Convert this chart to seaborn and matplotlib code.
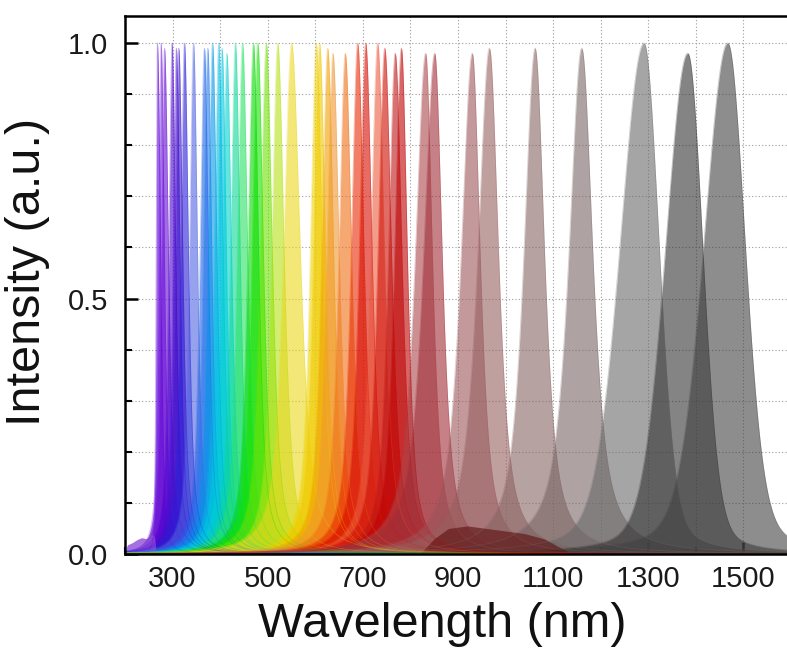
import numpy as np
import pandas as pd
import matplotlib
matplotlib.use("Agg")
import matplotlib.pyplot as plt
import seaborn as sns
from matplotlib.ticker import MultipleLocator

# ---- data ----
peak_nm = [268, 276, 283, 299, 308, 313, 325, 344, 367, 374, 384, 397, 404, 414,
           432, 447, 470, 479, 497, 521, 550, 602, 609, 626, 637, 663, 689, 706,
           731, 746, 768, 781, 832, 851, 930, 966, 1062, 1160, 1291, 1383, 1467]
peak_height = [1.00, 1.00, 0.99, 1.00, 0.99, 0.99, 1.00, 1.00, 0.99, 0.99, 1.00, 1.00, 0.99, 0.98,
               1.00, 1.00, 1.00, 1.00, 1.00, 1.00, 1.00, 1.00, 1.00, 0.99, 0.98, 0.98, 1.00, 1.00,
               1.00, 0.99, 0.98, 0.99, 0.98, 0.98, 0.98, 0.99, 0.99, 0.99, 1.00, 0.98, 1.00]
hwhm_left = [3, 6, 7, 8, 8, 8, 9, 10, 11, 11, 11, 11, 11, 11,
             12, 13, 14, 14, 15, 15, 20, 15, 15, 15, 15, 16, 16, 16,
             17, 17, 17, 17, 26, 28, 28, 29, 28, 32, 60, 56, 60]
hwhm_right = [8, 8, 10, 9, 9, 10, 10, 10, 10, 10, 11, 11, 11, 12,
              12, 13, 13, 14, 15, 16, 22, 15, 15, 15, 16, 16, 16, 16,
              17, 17, 17, 15, 17, 19, 20, 23, 24, 28, 38, 38, 44]
lorentz_mix = [0.3, 0.75, 0.75, 0.75, 0.75, 0.75, 0.75, 0.75, 0.75, 0.75, 0.75, 0.75, 0.75, 0.75,
               0.75, 0.75, 0.75, 0.75, 0.75, 0.75, 0.75, 0.75, 0.75, 0.75, 0.75, 0.75, 0.75, 0.75,
               0.75, 0.75, 0.75, 0.75, 0.8, 0.8, 0.8, 0.8, 0.8, 0.8, 0.3, 0.25, 0.3]
peak_rgb = [(95, 0, 215), (110, 20, 220), (100, 10, 210), (75, 0, 205), (70, 10, 210),
            (60, 20, 200), (40, 30, 215), (80, 100, 225), (30, 100, 230), (40, 120, 235),
            (0, 150, 230), (0, 185, 225), (0, 200, 225), (0, 210, 205), (10, 215, 150),
            (40, 225, 100), (0, 215, 0), (20, 225, 0), (110, 225, 0), (180, 225, 20),
            (235, 215, 30), (240, 210, 0), (240, 200, 0), (240, 160, 0), (240, 150, 50),
            (240, 110, 20), (232, 40, 0), (215, 10, 0), (235, 90, 60), (205, 10, 0),
            (190, 20, 20), (190, 0, 0), (170, 70, 75), (160, 45, 55), (155, 85, 90),
            (150, 95, 95), (135, 100, 100), (120, 100, 100), (105, 105, 105), (50, 50, 50),
            (65, 65, 65)]

# low baselines seen at the bottom of the plot
uv_floor_nm = [200, 205, 215, 225, 235, 245, 255, 262, 266]
uv_floor_val = [0.004, 0.018, 0.022, 0.028, 0.032, 0.030, 0.038, 0.035, 0.0]
vis_floor_nm = [330, 345, 400, 500, 600, 680, 720, 740]
vis_floor_val = [0.0, 0.016, 0.018, 0.02, 0.018, 0.015, 0.008, 0.0]
nir_floor_nm = [820, 850, 880, 920, 960, 1000, 1040, 1080, 1110, 1140]
nir_floor_val = [0.0, 0.03, 0.05, 0.055, 0.05, 0.045, 0.04, 0.03, 0.015, 0.0]

xticks = [300, 500, 700, 900, 1100, 1300, 1500]
yticks = [0.0, 0.5, 1.0]

# ---- build curves ----
wl = np.linspace(200, 1600, 2801)
rows = []
for i, (c, h, wlft, wrgt, eta) in enumerate(zip(peak_nm, peak_height, hwhm_left, hwhm_right, lorentz_mix)):
    w = np.where(wl < c, wlft, wrgt)
    u = (wl - c) / w
    y = h * (eta / (1 + u ** 2) + (1 - eta) * np.exp(-np.log(2) * u ** 2))
    rows.append(pd.DataFrame({"wl": wl, "I": y, "peak": i}))
df = pd.concat(rows, ignore_index=True)

sns.set_theme(style="ticks")
plt.rcParams['font.family'] = ['Liberation Sans', 'DejaVu Sans']
plt.rcParams['text.color'] = 'black'
plt.rcParams['axes.labelcolor'] = 'black'

fig = plt.figure(figsize=(7.87, 6.57), dpi=100)
ax = fig.add_axes([125 / 787, (657 - 554) / 657, 666 / 787, 538 / 657])

ax.set_axisbelow(True)
ax.grid(True, which="both", color="#9a9a9a", linestyle=(0, (1, 2)), linewidth=0.8)

# floors under the peaks
ax.fill_between(vis_floor_nm, 0, vis_floor_val, color=(0.75, 0.72, 0.35), alpha=0.6, lw=0)

for i, rgb in enumerate(peak_rgb):
    col = tuple(v / 255 for v in rgb)
    sub = df[df["peak"] == i]
    ax.fill_between(sub["wl"], 0, sub["I"], color=col, alpha=0.6, lw=0)
    sns.lineplot(data=sub, x="wl", y="I", ax=ax, color=col, alpha=0.3, lw=0.6, legend=False)

# floors drawn on top
ax.fill_between(uv_floor_nm, 0, uv_floor_val, color=(0.55, 0.3, 0.85), alpha=0.8, lw=0)
ax.fill_between(nir_floor_nm, 0, nir_floor_val, color=(0.38, 0.08, 0.08), alpha=0.65, lw=0)

ax.set_xlim(200, 1600)
ax.set_ylim(0, 1.053)
ax.set_xticks(xticks)
ax.xaxis.set_minor_locator(MultipleLocator(100))
ax.set_yticks(yticks)
ax.set_yticklabels(["0.0", "0.5", "1.0"])
ax.yaxis.set_minor_locator(MultipleLocator(0.1))

ax.tick_params(axis="both", which="major", direction="in", length=9, width=1.8,
               labelsize=21, colors="black", labelcolor="#1a1a1a")
ax.tick_params(axis="both", which="minor", direction="in", length=5, width=1.5, colors="black")
ax.tick_params(axis="x", which="major", pad=8)
ax.tick_params(axis="y", which="major", pad=12)
ax.tick_params(top=False, right=False, which="both")
for s in ["left", "bottom", "top", "right"]:
    ax.spines[s].set_linewidth(1.8)
    ax.spines[s].set_color("black")

ax.set_xlabel("Wavelength (nm)", fontsize=35, color="#111111")
ax.set_ylabel("Intensity (a.u.)", fontsize=35, color="#111111")
ax.xaxis.set_label_coords((442 - 125) / 666, -0.09)
ax.yaxis.set_label_coords(-0.112, (554 - 272) / 538)

fig.savefig("out.png", dpi=100)
